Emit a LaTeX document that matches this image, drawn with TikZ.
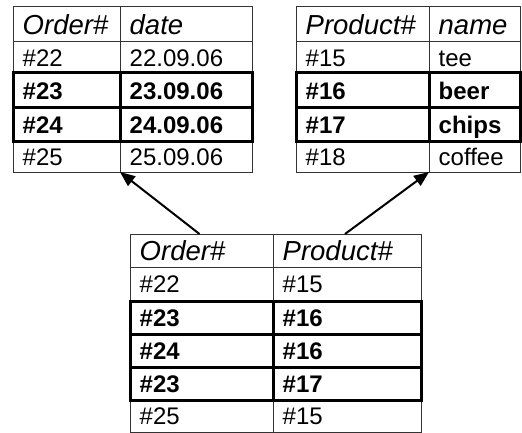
\documentclass[tikz,border=0pt]{standalone}
\usepackage{fontspec}
\setmainfont{Liberation Sans}
\usetikzlibrary{arrows.meta}
\tikzset{
  cellbox/.style={draw=black!80, line width=1pt, inner sep=0pt, outer sep=0pt},
  thickbox/.style={draw=black, line width=3pt, inner sep=0pt, outer sep=0pt},
  celltext/.style={anchor=west, inner sep=0pt, text depth=0pt},
  headtext/.style={font=\fontsize{27.5}{30}\selectfont\itshape, text height=19.8pt},
  datatext/.style={font=\fontsize{24}{28}\selectfont, text height=17.3pt},
  boldtext/.style={font=\fontsize{24}{28}\selectfont\bfseries, text height=17.3pt},
  link/.style={line width=2pt, -{Triangle[length=15pt,width=12pt]}}
}
% name, x0, y0, x1, y1, box style, text style, text
\newcommand\tabcell[8]{%
  \node[#6, minimum width={(#4-#2)*1pt}, minimum height={(#5-#3)*1pt}] (#1) at ({(#2+#4)/2*1pt},{-(#3+#5)/2*1pt}) {};
  \node[celltext,#7] (#1-t) at ({(#2+9.5)*1pt},{-(#3+#5)/2*1pt}) {#8};
}
\begin{document}
\begin{tikzpicture}
\useasboundingbox (0,0) rectangle (522pt,-433pt);
% Orders table
\tabcell{o-h1}{13}{7}{120}{42}{cellbox}{headtext}{Order\#}
\tabcell{o-h2}{120}{7}{252}{42}{cellbox}{headtext}{date}
\tabcell{o-11}{13}{42}{120}{73}{cellbox}{datatext}{\#22}
\tabcell{o-12}{120}{42}{252}{73}{cellbox}{datatext}{22.09.06}
\tabcell{o-41}{13}{142}{120}{172}{cellbox}{datatext}{\#25}
\tabcell{o-42}{120}{142}{252}{172}{cellbox}{datatext}{25.09.06}
\tabcell{o-21}{13}{73}{120}{108}{thickbox}{boldtext}{\#23}
\tabcell{o-22}{120}{73}{252}{108}{thickbox}{boldtext}{23.09.06}
\tabcell{o-31}{13}{108}{120}{142}{thickbox}{boldtext}{\#24}
\tabcell{o-32}{120}{108}{252}{142}{thickbox}{boldtext}{24.09.06}
% Products table
\tabcell{p-h1}{296}{7}{429}{42}{cellbox}{headtext}{Product\#}
\tabcell{p-h2}{429}{7}{520}{42}{cellbox}{headtext}{name}
\tabcell{p-11}{296}{42}{429}{73}{cellbox}{datatext}{\#15}
\tabcell{p-12}{429}{42}{520}{73}{cellbox}{datatext}{tee}
\tabcell{p-41}{296}{142}{429}{172}{cellbox}{datatext}{\#18}
\tabcell{p-42}{429}{142}{520}{172}{cellbox}{datatext}{coffee}
\tabcell{p-21}{296}{73}{429}{108}{thickbox}{boldtext}{\#16}
\tabcell{p-22}{429}{73}{520}{108}{thickbox}{boldtext}{beer}
\tabcell{p-31}{296}{108}{429}{142}{thickbox}{boldtext}{\#17}
\tabcell{p-32}{429}{108}{520}{142}{thickbox}{boldtext}{chips}
% Join table
\tabcell{j-h1}{130}{234}{273}{267}{cellbox}{headtext}{Order\#}
\tabcell{j-h2}{273}{234}{421}{267}{cellbox}{headtext}{Product\#}
\tabcell{j-11}{130}{267}{273}{301}{cellbox}{datatext}{\#22}
\tabcell{j-12}{273}{267}{421}{301}{cellbox}{datatext}{\#15}
\tabcell{j-51}{130}{400}{273}{432}{cellbox}{datatext}{\#25}
\tabcell{j-52}{273}{400}{421}{432}{cellbox}{datatext}{\#15}
\tabcell{j-21}{130}{301}{273}{334}{thickbox}{boldtext}{\#23}
\tabcell{j-22}{273}{301}{421}{334}{thickbox}{boldtext}{\#16}
\tabcell{j-31}{130}{334}{273}{367}{thickbox}{boldtext}{\#24}
\tabcell{j-32}{273}{334}{421}{367}{thickbox}{boldtext}{\#16}
\tabcell{j-41}{130}{367}{273}{400}{thickbox}{boldtext}{\#23}
\tabcell{j-42}{273}{367}{421}{400}{thickbox}{boldtext}{\#17}
% arrows
\draw[link] ([xshift=-2pt]j-h1.north) -- (o-41.south east);
\draw[link] ([xshift=-2pt]j-h2.north) -- (p-41.south east);
\end{tikzpicture}
\end{document}
